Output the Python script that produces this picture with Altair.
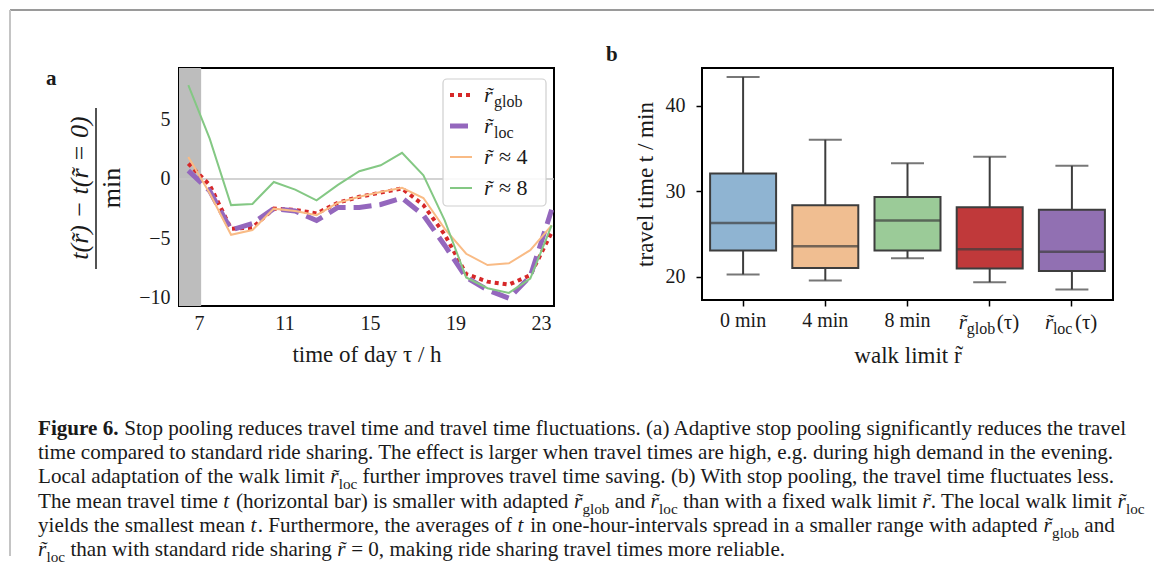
import altair as alt
import pandas as pd

# ---------------- data: panel a (difference of travel time vs hour) ----------------
hours = [6.5, 7.5, 8.5, 9.5, 10.5, 11.5, 12.5, 13.5, 14.5, 15.5, 16.5, 17.5, 18.5, 19.5, 20.5, 21.5, 22.5, 23.5]
dt_glob = [1.3, -0.5, -4.2, -4.1, -2.5, -2.6, -2.9, -2.0, -1.5, -1.15, -0.8, -2.2, -4.7, -8.0, -8.65, -8.9, -8.1, -4.5]
dt_loc = [0.7, -1.0, -4.3, -3.75, -2.5, -2.7, -3.5, -2.4, -2.4, -2.15, -1.6, -3.05, -5.6, -8.3, -9.35, -10.05, -8.2, -2.6]
dt_r4 = [1.85, -1.2, -4.7, -4.3, -2.5, -2.7, -3.05, -2.0, -1.5, -1.1, -0.75, -1.6, -4.2, -6.3, -7.25, -7.1, -6.0, -3.9]
dt_r8 = [7.9, 3.4, -2.2, -2.1, -0.25, -0.9, -1.8, -0.5, 0.65, 1.15, 2.2, 0.3, -3.5, -8.3, -9.2, -9.6, -8.4, -3.9]
x_ticks_a = [7, 11, 15, 19, 23]
y_ticks_a = [-10, -5, 0, 5]
night_start = 6.064
night_end = 7.1

# ---------------- data: panel b (box plots) ----------------
cats = ["0 min", "4 min", "8 min", "r_glob", "r_loc"]
whisk_lo = [20.3, 19.6, 22.2, 19.4, 18.55]
q1 = [23.1, 21.05, 23.1, 21.0, 20.7]
med = [26.3, 23.6, 26.6, 23.25, 22.95]
q3 = [32.1, 28.4, 29.35, 28.15, 27.85]
whisk_hi = [43.4, 36.05, 33.3, 34.05, 33.0]
box_colors = ["#8fb4d2", "#f0be91", "#9bcb98", "#c0393a", "#9170b2"]
y_ticks_b = [20, 30, 40]

FONT = "Liberation Serif"
INK = "#1a1a1a"
EDGE = "#3d3d3d"
LBL = 20
TTL = 23

series_df = pd.concat([
    pd.DataFrame({"hour": hours, "dt": dt_glob, "series": "glob"}),
    pd.DataFrame({"hour": hours, "dt": dt_loc, "series": "loc"}),
    pd.DataFrame({"hour": hours, "dt": dt_r4, "series": "r4"}),
    pd.DataFrame({"hour": hours, "dt": dt_r8, "series": "r8"}),
])
band_df = pd.DataFrame({"hour": [night_start], "hour_end": [night_end]})
zero_df = pd.DataFrame({"dt": [0]})
one = pd.DataFrame({"k": [0]})

W_A, H_A = 375, 238
W_B, H_B = 411, 232

xs = alt.Scale(domain=[6.064, 23.61], nice=False, zero=False)
ys = alt.Scale(domain=[-10.70, 9.35], nice=False, zero=False)
AX_XA = alt.Axis(values=x_ticks_a, title="time of day τ / h", ticks=False, tickSize=0,
                 domain=False, grid=False, labelPadding=7, titlePadding=10,
                 labelFontSize=LBL, titleFontSize=TTL)
AX_YA = alt.Axis(values=y_ticks_a, title=None, ticks=False, tickSize=0, domain=False,
                 grid=False, labelPadding=9, labelFontSize=LBL)
XA = alt.X("hour:Q", scale=xs, axis=AX_XA)
YA = alt.Y("dt:Q", scale=ys, axis=AX_YA)


def txt(s, x, y, size, align="left", baseline="alphabetic", **kw):
    return alt.Chart(one).mark_text(text=s, align=align, baseline=baseline, fontSize=size,
                                    font=FONT, color=INK, **kw).encode(
        x=alt.value(x), y=alt.value(y))


layers_a = []
layers_a.append(alt.Chart(band_df).mark_rect(color="#bdbdbd").encode(
    x=XA, x2="hour_end:Q", y=alt.value(0), y2=alt.value(H_A)))
layers_a.append(alt.Chart(zero_df).mark_rule(color="#c4c4c4", strokeWidth=1.5).encode(y=YA))

styles = {
    "glob": dict(color="#d62728", strokeWidth=4, strokeDash=[4, 4], strokeCap="butt"),
    "loc": dict(color="#9467bd", strokeWidth=5, strokeDash=[18, 8], strokeCap="butt"),
    "r4": dict(color="#f9bb85", strokeWidth=2),
    "r8": dict(color="#84c884", strokeWidth=2),
}
for key in ["glob", "loc", "r4", "r8"]:
    layers_a.append(alt.Chart(series_df).transform_filter(alt.datum.series == key)
                    .mark_line(**styles[key]).encode(x=XA, y=YA))

# legend (custom, to allow subscripts)
layers_a.append(alt.Chart(one).mark_rect(fill="white", fillOpacity=0.85, stroke="#cfcfcf",
                                          strokeWidth=1.2, cornerRadius=4).encode(
    x=alt.value(264), x2=alt.value(367), y=alt.value(11), y2=alt.value(138)))
leg_y = [27, 58, 89, 120]
leg_entries = [("glob", "r\u0303", "glob", ""), ("loc", "r\u0303", "loc", ""),
               ("r4", "r\u0303", "", "\u2248 4"), ("r8", "r\u0303", "", "\u2248 8")]
for (key, main, sub, tail), yy in zip(leg_entries, leg_y):
    layers_a.append(alt.Chart(one).mark_rule(**styles[key]).encode(
        x=alt.value(271), x2=alt.value(293), y=alt.value(yy)))
    layers_a.append(txt(main, 305, yy, 22, baseline="middle", fontStyle="italic"))
    if sub:
        layers_a.append(txt(sub, 315, yy + 7, 16, baseline="middle"))
    if tail:
        layers_a.append(txt(tail, 320, yy, 22, baseline="middle"))

# panel label and y-axis fraction title
layers_a.append(txt("a", -133, 17, 21, fontWeight="bold"))
layers_a.append(txt("t(r\u0303) \u2212 t(r\u0303 = 0)", -99, 120, 26, align="center", baseline="middle",
                    angle=270, fontStyle="italic"))
layers_a.append(alt.Chart(one).mark_rule(color=INK, strokeWidth=1.5).encode(
    x=alt.value(-83), y=alt.value(40), y2=alt.value(201)))
layers_a.append(txt("min", -67, 120, 26, align="center", baseline="middle", angle=270))

# ---------------- caption ----------------
REG = {' ': 250, '!': 333, '(': 333, ')': 333, ',': 250, '-': 333, '.': 250, '/': 278, ':': 278,
       ';': 278, '=': 564, '\u0303': 0}
for d in "0123456789":
    REG[d] = 500
REG.update(dict(zip("ABCDEFGHIJKLMNOPQRSTUVWXYZ",
                    [722, 667, 667, 722, 611, 556, 722, 722, 333, 389, 722, 611, 889, 722, 722, 556,
                     722, 667, 556, 611, 722, 722, 944, 722, 722, 611])))
REG.update(dict(zip("abcdefghijklmnopqrstuvwxyz",
                    [444, 500, 444, 500, 444, 333, 500, 500, 278, 278, 500, 278, 778, 500, 500, 500,
                     500, 333, 389, 278, 500, 500, 722, 500, 500, 444])))
BOLD = dict(REG)
BOLD.update({'F': 611, 'u': 556, 'r': 444})


def em(s, table):
    return sum(table.get(c, 500) for c in s) / 1000.0


R = "r\u0303"
caption = [
    [("Figure 6.", "b"), (" Stop pooling reduces travel time and travel time fluctuations. (a) Adaptive stop pooling significantly reduces the travel", "n")],
    [("time compared to standard ride sharing. The effect is larger when travel times are high, e.g. during high demand in the evening.", "n")],
    [("Local adaptation of the walk limit ", "n"), (R, "i"), ("loc", "s"), (" further improves travel time saving. (b) With stop pooling, the travel time fluctuates less.", "n")],
    [("The mean travel time ", "n"), ("t", "i"), (" (horizontal bar) is smaller with adapted ", "n"), (R, "i"), ("glob", "s"), (" and ", "n"), (R, "i"), ("loc", "s"), (" than with a fixed walk limit ", "n"), (R, "i"), (". The local walk limit ", "n"), (R, "i"), ("loc", "s")],
    [("yields the smallest mean ", "n"), ("t", "i"), (". Furthermore, the averages of ", "n"), ("t", "i"), (" in one-hour-intervals spread in a smaller range with adapted ", "n"), (R, "i"), ("glob", "s"), (" and", "n")],
    [(R, "i"), ("loc", "s"), (" than with standard ride sharing ", "n"), (R, "i"), (" = 0, making ride sharing travel times more reliable.", "n")],
]
SUB = 0.72
line1_em = em(caption[0][0][0], BOLD) + em(caption[0][1][0], REG)
FS = 1090.0 / line1_em
x0_cap, y0_cap, lh = -141, 367, 24.2
for i, segs in enumerate(caption):
    cx = x0_cap
    yy = y0_cap + i * lh
    for s, kind in segs:
        table = BOLD if kind == "b" else REG
        size = FS * SUB if kind == "s" else FS
        lead = len(s) - len(s.lstrip(" "))
        cx += lead * 0.25 * size
        body = s.lstrip(" ")
        shown = body.rstrip(" ")
        if shown:
            if kind == "b":
                layers_a.append(txt(shown, cx, yy, size, fontWeight="bold"))
            elif kind == "i":
                layers_a.append(txt(shown, cx, yy, size, fontStyle="italic"))
            elif kind == "s":
                layers_a.append(txt(shown, cx, yy + 0.28 * FS, size))
            else:
                layers_a.append(txt(shown, cx, yy, size))
        cx += em(body, table) * size + (1.5 if kind == "i" else 0)

# figure frame (top and left border)
layers_a.append(alt.Chart(one).mark_rule(color="#9a9a9a", strokeWidth=2).encode(
    x=alt.value(-169), x2=alt.value(975), y=alt.value(-58)))
layers_a.append(alt.Chart(one).mark_rule(color="#c4c4c4", strokeWidth=2).encode(
    x=alt.value(-169), y=alt.value(-58), y2=alt.value(488)))

panel_a = alt.layer(*layers_a).properties(width=W_A, height=H_A)

# ---------------- panel b ----------------
box_df = pd.DataFrame({"cat": cats, "lo": whisk_lo, "q1": q1, "med": med, "q3": q3, "hi": whisk_hi})
xbs = alt.Scale(domain=cats, paddingInner=0, paddingOuter=0)
ybs = alt.Scale(domain=[17.31, 44.44], nice=False, zero=False)
AX_XB = alt.Axis(title="walk limit r\u0303", labelExpr="datum.value == 'r_glob' || datum.value == 'r_loc' ? '' : datum.value",
                 tickSize=6, tickWidth=1.5, tickColor="black", labelPadding=4, titlePadding=14,
                 domain=False, grid=False, labelFontSize=LBL, titleFontSize=TTL, labelAngle=0)
AX_YB = alt.Axis(values=y_ticks_b, title="travel time t / min", tickSize=6, tickWidth=1.5,
                 tickColor="black", labelPadding=11, titlePadding=8, domain=False, grid=False,
                 labelFontSize=LBL, titleFontSize=TTL)
XB = alt.X("cat:N", scale=xbs, axis=AX_XB, sort=cats)


def YB(f):
    return alt.Y(f + ":Q", scale=ybs, axis=AX_YB)


bb = alt.Chart(box_df)
layers_b = [
    bb.mark_rule(color=EDGE, strokeWidth=2).encode(x=XB, y=YB("lo"), y2="q1:Q"),
    bb.mark_rule(color=EDGE, strokeWidth=2).encode(x=XB, y=YB("q3"), y2="hi:Q"),
    bb.mark_bar(size=66, stroke=EDGE, strokeWidth=2).encode(
        x=XB, y=YB("q1"), y2="q3:Q",
        color=alt.Color("cat:N", scale=alt.Scale(domain=cats, range=box_colors), legend=None)),
    bb.mark_tick(size=66, thickness=2.5, color=EDGE).encode(x=XB, y=YB("med")),
    bb.mark_tick(size=33, thickness=2, color=EDGE).encode(x=XB, y=YB("lo")),
    bb.mark_tick(size=33, thickness=2, color=EDGE).encode(x=XB, y=YB("hi")),
]
for cat, sub, dxr, dxs, dxt in [("r_glob", "glob", -31, -23, 7), ("r_loc", "loc", -27, -19, 3)]:
    cdf = pd.DataFrame({"cat": [cat]})
    for s, dx, size, dy, style in [(R, dxr, 21, 0, "italic"), (sub, dxs, 16, 5, "normal"),
                                   ("(τ)", dxt, 21, 0, "normal")]:
        layers_b.append(alt.Chart(cdf).mark_text(text=s, align="left", baseline="alphabetic",
                                                  fontSize=size, font=FONT, color=INK, dx=dx, dy=dy,
                                                  fontStyle=style).encode(
            x=XB, y=alt.value(H_B + 29)))
layers_b.append(txt("b", -96, -7, 21, fontWeight="bold"))

panel_b = alt.layer(*layers_b).properties(width=W_B, height=H_B)

chart = alt.hconcat(panel_a, panel_b, spacing=148, bounds="flush").properties(
    padding=0
).configure_axis(
    labelFont=FONT, titleFont=FONT, labelColor=INK, titleColor=INK, titleFontWeight="normal"
).configure_view(
    stroke="black", strokeWidth=2
)

chart.save("out.html", embed_options={"renderer": "svg", "actions": False})
